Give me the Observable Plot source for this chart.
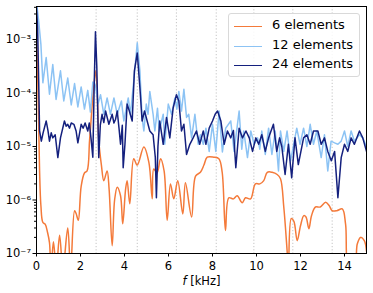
<!DOCTYPE html>
<html>
<head>
<meta charset="utf-8">
<script src="https://cdn.jsdelivr.net/npm/d3@7"></script>
<script src="https://cdn.jsdelivr.net/npm/@observablehq/plot@0.6"></script>
<style>
  html, body { margin: 0; padding: 0; background: #fff; }
  #wrap { position: relative; width: 373px; height: 293px; font-family: "DejaVu Sans", sans-serif; }
  #legend { position: absolute; left: 228px; top: 13px; width: 130px; height: 62px;
    border: 1px solid #d9d9d9; border-radius: 3px; background: rgba(255,255,255,0.85);
    font-size: 13px; color: #000; }
  .item { position: absolute; left: 0; height: 20px; width: 130px; }
  .swatch { position: absolute; left: 5px; top: 10px; width: 28px; height: 0; border-top: 1.6px solid; }
  .lab { position: absolute; left: 43px; top: 1px; white-space: nowrap; line-height: 16px; }
</style>
</head>
<body>
<div id="wrap"></div>
<script>
// ---- data ----
const seriesNames = ["6 elements", "12 elements", "24 elements"];
const seriesColors = ["#f47a3a", "#8cc3f4", "#14207e"];

// 6 elements (orange)
const f6 = [0.00,0.05,0.10,0.14,0.20,0.29,0.40,0.50,0.59,0.66,0.77,0.90,1.05,1.20,1.42,1.55,1.73,1.80,1.90,2.03,2.18,2.30,2.41,2.50,2.60,2.70,2.77,2.83,2.95,3.06,3.21,3.30,3.44,3.55,3.67,3.82,3.92,4.05,4.12,4.24,4.42,4.58,4.88,5.11,5.26,5.33,5.48,5.64,5.80,5.94,6.09,6.24,6.42,6.65,6.77,7.05,7.23,7.45,7.61,7.76,8.06,8.29,8.44,8.59,8.74,8.95,9.12,9.35,9.50,9.73,9.95,10.15,10.33,10.49,10.71,10.94,11.09,11.24,11.39,11.45,11.58,11.70,11.85,12.00,12.15,12.25,12.38,12.50,12.68,12.90,13.14,13.30,13.44,13.65,13.90,14.05,14.20,14.45,14.58,14.73,14.90,15.00];
const v6 = [1.6e-3,2.5e-4,2.5e-5,3.5e-6,7.9e-7,3.8e-7,3.5e-7,2.5e-7,1.6e-7,5e-8,1.66e-7,5e-8,2.2e-7,5e-8,3.0e-7,5e-8,6.3e-7,5.6e-7,4.2e-7,1.8e-6,3.2e-6,3.5e-6,1.26e-5,4.0e-5,1.26e-4,2.6e-4,7.9e-5,1.3e-5,4.5e-6,2.3e-6,3.5e-6,1.6e-6,1.4e-7,1.0e-6,1.74e-6,1.2e-6,3.6e-7,1.6e-6,2.3e-6,8.5e-7,5.9e-6,4.5e-6,9.8e-6,5.0e-6,1.05e-6,3.8e-6,3.2e-6,5.9e-6,3.5e-6,4.2e-7,2.0e-6,1.05e-6,2.3e-6,5.5e-7,2.1e-6,4.8e-7,2.8e-6,3.3e-6,4.5e-6,6.3e-6,6.3e-6,5.9e-6,3.3e-6,2.7e-7,1.1e-6,1.05e-6,1.2e-6,8.9e-7,1.1e-6,1.05e-6,2.0e-6,2.0e-6,2.3e-6,3.3e-6,3.3e-6,3.0e-6,2.5e-6,7.4e-7,1.15e-7,5e-8,4.5e-7,4.0e-7,1.74e-7,3.3e-7,5.1e-7,4.8e-7,2.9e-7,5.1e-7,7.4e-7,7.4e-7,9.1e-7,7.9e-7,6.3e-7,6.3e-7,6.8e-7,3.5e-7,5e-8,5e-8,1.5e-7,2.0e-7,1.74e-7,1.1e-7];

// 12 elements (light blue)
const f12 = [0.00,0.10,0.20,0.29,0.44,0.59,0.74,0.89,1.09,1.24,1.42,1.58,1.73,1.88,2.03,2.18,2.33,2.45,2.56,2.68,2.80,2.91,3.06,3.21,3.36,3.52,3.67,3.86,3.97,4.17,4.27,4.42,4.58,4.70,4.80,4.88,4.99,5.07,5.15,5.30,5.38,5.50,5.58,5.76,5.83,5.99,6.14,6.29,6.38,6.47,6.59,6.70,6.82,6.92,7.05,7.20,7.35,7.45,7.58,7.70,7.85,8.00,8.15,8.30,8.45,8.60,8.83,8.98,9.21,9.33,9.42,9.59,9.74,9.89,10.05,10.15,10.24,10.40,10.55,10.70,10.85,11.00,11.09,11.24,11.39,11.55,11.83,11.98,12.14,12.29,12.44,12.59,12.74,12.94,13.09,13.24,13.39,13.55,13.70,13.85,14.00,14.15,14.30,14.45,14.68,14.83,15.00];
const v12 = [5.0e-3,2.2e-3,8.1e-4,1.55e-4,4.6e-4,9.5e-5,3.4e-4,7.6e-5,2.6e-4,7.1e-5,1.9e-4,6.0e-5,1.5e-4,5.5e-5,1.3e-4,5.0e-5,1.12e-4,4.4e-5,1.6e-4,1.4e-4,6.3e-5,9.3e-5,4.0e-5,8.1e-5,4.0e-5,8.1e-5,4.0e-5,7.1e-5,3.0e-5,8.1e-5,4.0e-5,1.66e-4,8.7e-4,2.6e-4,3.5e-5,1.95e-5,6.2e-5,4.0e-5,1.07e-4,4.0e-5,1.95e-5,5.2e-5,1.95e-5,4.0e-5,1.1e-5,6.2e-5,4.0e-5,8.1e-5,5.0e-5,1.07e-4,4.6e-5,1.17e-4,3.5e-5,4.0e-5,1.45e-5,4.0e-5,1.1e-5,1.66e-5,1.1e-5,2.2e-5,8.1e-6,2.6e-5,8.1e-6,4.6e-5,7.9e-6,2.2e-5,3.0e-5,8.1e-6,4.6e-5,8.9e-6,1.95e-5,6.2e-6,1.95e-5,1.1e-5,1.45e-5,8.9e-6,1.95e-5,7.1e-6,2.2e-5,7.1e-6,1.95e-5,3.5e-6,1.95e-5,8.1e-6,1.95e-5,5.4e-6,2.2e-5,1.1e-5,2.2e-5,1.0e-5,2.6e-5,1.1e-5,1.95e-5,6.2e-6,1.66e-5,3.5e-6,1.26e-5,1.17e-5,1.1e-5,1.26e-5,1.95e-5,1.0e-5,1.95e-5,1.26e-5,1.66e-5,1.45e-5,1.0e-5];

// 24 elements (dark blue)
const f24 = [0.00,0.05,0.10,0.14,0.22,0.30,0.44,0.52,0.59,0.67,0.74,0.85,0.97,1.09,1.27,1.35,1.42,1.50,1.58,1.70,1.80,1.88,2.03,2.12,2.21,2.33,2.40,2.48,2.56,2.62,2.68,2.74,2.83,2.90,2.98,3.06,3.14,3.29,3.44,3.52,3.59,3.67,3.75,3.82,3.90,3.94,4.02,4.12,4.22,4.35,4.45,4.58,4.70,4.80,4.91,5.03,5.15,5.30,5.40,5.45,5.52,5.60,5.76,5.91,6.06,6.21,6.36,6.47,6.59,6.70,6.82,6.97,7.12,7.27,7.42,7.58,7.70,7.85,8.00,8.12,8.23,8.38,8.53,8.68,8.83,8.95,9.06,9.21,9.36,9.52,9.67,9.82,9.97,10.10,10.24,10.40,10.55,10.77,10.92,11.05,11.15,11.30,11.45,11.60,11.75,11.90,12.14,12.29,12.44,12.59,12.79,12.94,13.09,13.24,13.40,13.55,13.70,13.85,14.00,14.15,14.30,14.45,14.68,14.83,15.00];
const v24 = [4.0e-3,1.66e-3,1.6e-4,1.95e-5,1.26e-5,1.8e-5,3.0e-5,2.0e-5,1.26e-5,1.8e-5,1.45e-5,1.66e-5,6.2e-6,1.45e-5,3.0e-5,2.4e-5,2.6e-5,2.2e-5,2.75e-5,2.6e-5,1.95e-5,1.17e-5,2.6e-5,2.2e-5,2.75e-5,1.95e-5,2.75e-5,1.4e-5,6.3e-6,1.26e-4,1.4e-3,3.2e-4,6.2e-6,2.5e-5,4.0e-5,2.8e-5,4.6e-5,2.6e-5,4.0e-5,2.75e-5,3.2e-5,4.6e-5,2.2e-5,1.1e-5,2.5e-5,4.0e-6,1.1e-5,6.2e-5,4.6e-5,3.0e-5,2.6e-4,5.6e-4,1.26e-4,3.0e-5,4.6e-5,3.0e-5,1.95e-5,1.66e-5,6.3e-6,1.1e-6,1.0e-5,3.0e-5,1.1e-5,3.5e-5,1.45e-5,5.2e-5,9.3e-5,7.1e-5,1.95e-5,2.6e-5,7.1e-6,1.1e-5,1.45e-5,1.95e-5,1.1e-5,1.95e-5,1.1e-5,2.2e-5,3.0e-5,4.0e-5,4.6e-5,3.0e-5,1.1e-5,1.95e-5,1.45e-5,2.0e-5,4.0e-6,2.2e-5,1.45e-5,1.95e-5,1.45e-5,8.1e-6,1.45e-5,1.1e-5,1.66e-5,8.1e-6,1.45e-5,2.6e-5,8.1e-6,1.45e-5,1.0e-5,3.0e-6,1.1e-5,2.6e-6,1.45e-5,4.6e-6,1.45e-5,1.66e-5,1.1e-5,1.95e-5,1.95e-5,1.1e-5,1.45e-5,8.1e-6,5.4e-6,8.1e-6,1.1e-6,6.2e-6,1.1e-5,8.1e-6,1.45e-5,1.1e-5,1.95e-5,1.45e-5,8.1e-6];

// dotted vertical reference lines (kHz)
const gridF = [2.71, 4.58, 6.36, 8.17, 9.88, 11.65, 13.44];
// ticks
const xTicks = [0, 2, 4, 6, 8, 10, 12, 14];
const yTicks = [1e-7, 1e-6, 1e-5, 1e-4, 1e-3];
const yTickLabels = ["10⁻⁷", "10⁻⁶", "10⁻⁵", "10⁻⁴", "10⁻³"];
const yMinor = [2,3,4,5,6,7,8,9].flatMap(m => [1e-7,1e-6,1e-5,1e-4,1e-3].map(d => m * d)).filter(v => v < 4.1e-3);
const xLabel = "f [kHz]";

// ---- build tables ----
const toRows = (fs, vs) => fs.map((f, i) => ({f, v: vs[i]}));
const rows6 = toRows(f6, v6), rows12 = toRows(f12, v12), rows24 = toRows(f24, v24);

const chart = Plot.plot({
  width: 373, height: 293,
  marginLeft: 36, marginRight: 7, marginTop: 6, marginBottom: 40,
  style: {fontFamily: "DejaVu Sans, sans-serif", fontSize: "11.5px", color: "#000", background: "#fff"},
  x: {domain: [0, 15]},
  y: {type: "log", domain: [1e-7, 4.14e-3]},
  marks: [
    Plot.ruleX(gridF, {stroke: "#b5b5b5", strokeWidth: 0.8, strokeDasharray: "1.2,2"}),
    Plot.line(rows6, {x: "f", y: "v", stroke: seriesColors[0], strokeWidth: 1.5, curve: "catmull-rom", clip: true}),
    Plot.line(rows12, {x: "f", y: "v", stroke: seriesColors[1], strokeWidth: 1.5, clip: true}),
    Plot.line(rows24, {x: "f", y: "v", stroke: seriesColors[2], strokeWidth: 1.5, clip: true}),
    Plot.frame({stroke: "#000", strokeWidth: 1}),
    Plot.axisX({ticks: xTicks, tickSize: 3.5, tickPadding: 5, tickFormat: d => String(d), label: null, fontSize: 11.5}),
    Plot.axisY({ticks: yMinor, tickSize: 2, tickFormat: () => "", label: null}),
    Plot.axisY({ticks: yTicks, tickSize: 3.5, tickPadding: 2, tickFormat: (d, i) => yTickLabels[yTicks.indexOf(d)], label: null, fontSize: 11.5}),
    Plot.text([xLabel], {frameAnchor: "bottom", dy: 31, text: d => d, fontSize: 11.5, className: "xlab"})
  ]
});

document.getElementById("wrap").appendChild(chart);

// italic f in the x label
d3.select(chart).selectAll(".xlab text").each(function() {
  const t = d3.select(this);
  const s = t.text();
  t.text(null);
  t.append("tspan").attr("font-style", "italic").text(s.slice(0, 1));
  t.append("tspan").text(s.slice(1));
});

// legend
const legend = document.createElement("div");
legend.id = "legend";
seriesNames.forEach((name, i) => {
  const item = document.createElement("div");
  item.className = "item";
  item.style.top = (2 + i * 19.5) + "px";
  const sw = document.createElement("div");
  sw.className = "swatch";
  sw.style.borderTopColor = seriesColors[i];
  const lab = document.createElement("div");
  lab.className = "lab";
  lab.textContent = name;
  item.appendChild(sw); item.appendChild(lab);
  legend.appendChild(item);
});
document.getElementById("wrap").appendChild(legend);
</script>
</body>
</html>
